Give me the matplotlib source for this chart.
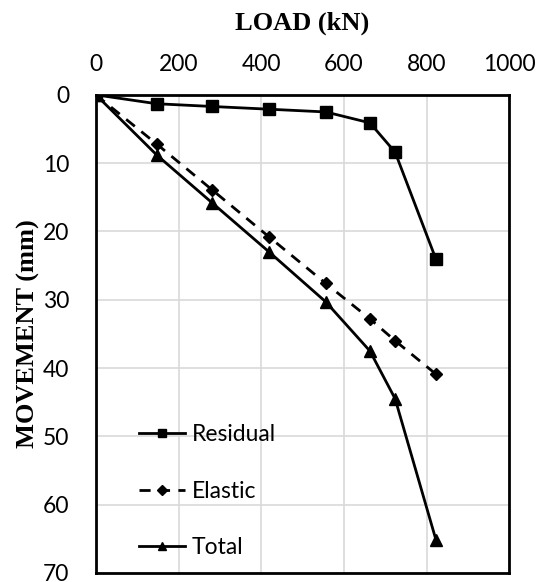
import numpy as np
import matplotlib.pyplot as plt

load = [0, 147, 281, 419, 556, 663, 724, 823]
residual = [0, 1.3, 1.7, 2.1, 2.5, 4.1, 8.4, 24.1]
elastic = [0, 7.2, 13.9, 20.8, 27.6, 32.8, 36.0, 40.9]
total = [0, 8.8, 15.8, 23.0, 30.3, 37.5, 44.5, 65.2]

fig = plt.figure(figsize=(5.36, 5.82), dpi=100)
ax = fig.add_axes([0.179, 0.0155, 0.771, 0.8215])

ax.plot(load, residual, '-', color='black', lw=2, marker='s', ms=8, label='Residual')
ax.plot(load, elastic, '--', color='black', lw=2, marker='D', ms=6, label='Elastic',
        dashes=(4, 3))
ax.plot(load, total, '-', color='black', lw=2, marker='^', ms=8, label='Total')

ax.set_xlim(0, 1000)
ax.set_ylim(70, 0)
ax.set_xticks(np.arange(0, 1001, 200))
ax.set_yticks(np.arange(0, 71, 10))
ax.xaxis.tick_top()
ax.xaxis.set_label_position('top')
ax.tick_params(length=0, labelsize=16.5, pad=14)
ax.tick_params(axis='y', pad=19)
for lab in ax.get_xticklabels() + ax.get_yticklabels():
    lab.set_family('Lato')

ax.grid(color='#d9d9d9', lw=1.2)
ax.set_axisbelow(True)
for s in ax.spines.values():
    s.set_linewidth(2)
    s.set_color('black')

ax.set_xlabel('LOAD (kN)', family='Liberation Serif', weight='bold', fontsize=19, labelpad=18)
ax.set_ylabel('MOVEMENT (mm)', family='Liberation Serif', weight='bold', fontsize=19, labelpad=2)

leg = ax.legend(loc='lower left', bbox_to_anchor=(0.055, -0.012), frameon=False,
                prop={'family': 'Lato', 'size': 16.5}, handlelength=2.0,
                handletextpad=0.3, labelspacing=1.55, markerscale=0.8)

fig.savefig('out.png', dpi=100)
